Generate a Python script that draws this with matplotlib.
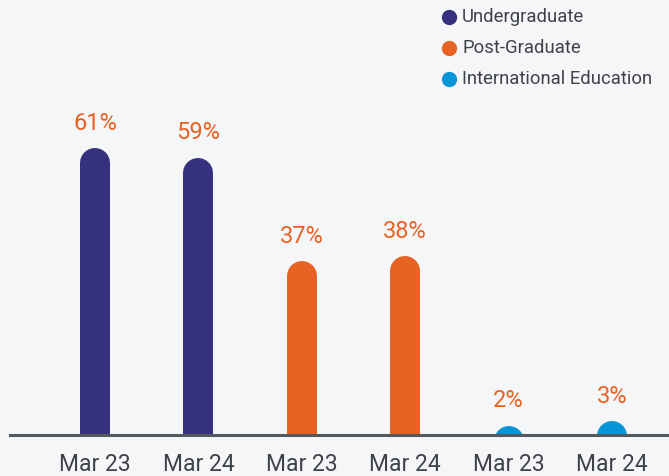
import matplotlib
matplotlib.use("Agg")
import matplotlib.pyplot as plt
from matplotlib.lines import Line2D

categories = ["Mar 23", "Mar 24", "Mar 23", "Mar 24", "Mar 23", "Mar 24"]
groups = ["Undergraduate", "Undergraduate", "Post-Graduate", "Post-Graduate",
          "International Education", "International Education"]
values = [61, 59, 37, 38, 2, 3]
legend_labels = ["Undergraduate", "Post-Graduate", "International Education"]
colors = {"Undergraduate": "#35317f", "Post-Graduate": "#e86224",
          "International Education": "#0895d8"}

W, H, DPI = 669, 476, 100
fig = plt.figure(figsize=(W / DPI, H / DPI), dpi=DPI)
bg = "#f5f6f7"
fig.patch.set_facecolor(bg)
ax = fig.add_axes([10 / W, (H - 435) / H, (W - 10) / W, 435 / H])
ax.set_facecolor(bg)
ymax = 92.5
ax.set_ylim(0, ymax)
ax.set_xlim(-0.822, 5.551)

bar_px = 30
lw_pt = bar_px * 72 / DPI
px_per_unit = 435 / ymax
cap_units = (bar_px / 2) / px_per_unit

for i, (g, v) in enumerate(zip(groups, values)):
    ax.plot([i, i], [-20, v - cap_units], color=colors[g], lw=lw_pt,
             solid_capstyle="round", zorder=2)
    ax.text(i, v + 2.8, f"{v}%", ha="center", va="bottom", color="#e86224",
            fontsize=17, family="Roboto")

ax.set_xticks(range(len(categories)))
ax.set_xticklabels(categories, fontsize=16.5, color="#3f4247", family="Roboto")
ax.tick_params(axis="x", length=0, pad=13)
ax.set_yticks([])
for s in ["top", "right", "left"]:
    ax.spines[s].set_visible(False)
ax.spines["bottom"].set_color("#55595e")
ax.spines["bottom"].set_linewidth(2.2)
ax.spines["bottom"].set_zorder(3)

# legend drawn at figure level
for k, lab in enumerate(legend_labels):
    yc = 1 - (17 + 31 * k) / H
    fig.add_artist(Line2D([449 / W], [yc], transform=fig.transFigure,
                          marker="o", ls="none", markersize=10,
                          markerfacecolor=colors[lab], markeredgecolor=colors[lab]))
    fig.text(462 / W, yc, lab, va="center", ha="left", fontsize=13.3,
             family="Roboto", color="#3f4247")

fig.savefig("out.png", dpi=DPI, facecolor=bg)
